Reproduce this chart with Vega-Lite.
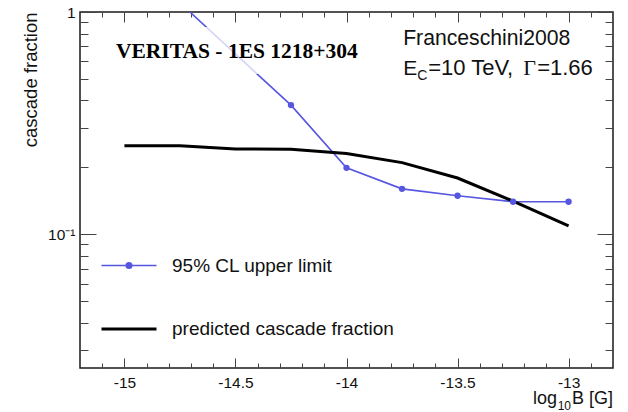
{
  "$schema": "https://vega.github.io/schema/vega-lite/v6.json",
  "width": 533,
  "height": 356,
  "autosize": {"type": "none"},
  "padding": {"left": 80, "top": 12, "right": 15, "bottom": 44},
  "background": "white",
  "config": {
    "view": {"stroke": "#1a1a1a", "strokeWidth": 1.5},
    "font": "Liberation Sans",
    "axis": {
      "domain": false,
      "grid": false,
      "tickColor": "#444",
      "tickWidth": 1,
      "labelFont": "Liberation Sans",
      "labelFontSize": 15.5,
      "labelColor": "#111",
      "labelOverlap": false,
      "labelFlush": false,
      "labelBound": false,
      "titleFont": "Liberation Sans",
      "titleFontWeight": "normal",
      "titleColor": "#111"
    }
  },
  "datasets": {
    "curves": [
      {"log10B": -14.75, "fraction": 1.1, "series": "95% CL upper limit"},
      {"log10B": -14.25, "fraction": 0.381, "series": "95% CL upper limit"},
      {"log10B": -14.0, "fraction": 0.199, "series": "95% CL upper limit"},
      {"log10B": -13.75, "fraction": 0.16, "series": "95% CL upper limit"},
      {"log10B": -13.5, "fraction": 0.149, "series": "95% CL upper limit"},
      {"log10B": -13.25, "fraction": 0.14, "series": "95% CL upper limit"},
      {"log10B": -13.0, "fraction": 0.14, "series": "95% CL upper limit"},
      {"log10B": -15.0, "fraction": 0.25, "series": "predicted cascade fraction"},
      {"log10B": -14.75, "fraction": 0.25, "series": "predicted cascade fraction"},
      {"log10B": -14.5, "fraction": 0.242, "series": "predicted cascade fraction"},
      {"log10B": -14.25, "fraction": 0.241, "series": "predicted cascade fraction"},
      {"log10B": -14.0, "fraction": 0.231, "series": "predicted cascade fraction"},
      {"log10B": -13.75, "fraction": 0.21, "series": "predicted cascade fraction"},
      {"log10B": -13.5, "fraction": 0.179, "series": "predicted cascade fraction"},
      {"log10B": -13.25, "fraction": 0.141, "series": "predicted cascade fraction"},
      {"log10B": -13.0, "fraction": 0.109, "series": "predicted cascade fraction"}
    ]
  },
  "layer": [
    {
      "data": {"name": "curves"},
      "mark": {"type": "line", "clip": true},
      "encoding": {
        "x": {
          "field": "log10B",
          "type": "quantitative",
          "scale": {"domain": [-15.2, -12.8], "nice": false, "zero": false},
          "axis": {
            "orient": "bottom",
            "title": null,
            "values": [-15.1, -15.0, -14.9, -14.8, -14.7, -14.6, -14.5, -14.4, -14.3, -14.2, -14.1, -14.0, -13.9, -13.8, -13.7, -13.6, -13.5, -13.4, -13.3, -13.2, -13.1, -13.0, -12.9],
            "labelExpr": "abs(datum.value * 2 - round(datum.value * 2)) < 0.001 ? toString(round(datum.value * 10) / 10) : ''",
            "tickSize": {"condition": {"test": "abs(datum.value * 2 - round(datum.value * 2)) < 0.001", "value": -10}, "value": -5},
            "labelPadding": 17
          }
        },
        "y": {
          "field": "fraction",
          "type": "quantitative",
          "scale": {"type": "log", "domain": [0.025, 1], "nice": false},
          "axis": {
            "orient": "left",
            "title": "cascade fraction",
            "titleFontSize": 18.5,
            "titleAnchor": "end",
            "titlePadding": 7,
            "values": [0.03, 0.04, 0.05, 0.06, 0.07, 0.08, 0.09, 0.1, 0.2, 0.3, 0.4, 0.5, 0.6, 0.7, 0.8, 0.9, 1],
            "labelExpr": "datum.value == 1 ? '1' : (abs(datum.value - 0.1) < 1e-6 ? '10⁻¹' : '')",
            "tickSize": {"condition": {"test": "datum.value == 1 || abs(datum.value - 0.1) < 1e-6", "value": -16}, "value": -8},
            "labelPadding": 21
          }
        },
        "color": {
          "field": "series",
          "type": "nominal",
          "scale": {"domain": ["95% CL upper limit", "predicted cascade fraction"], "range": ["#5656e0", "#000000"]},
          "legend": {
            "orient": "none",
            "legendX": 20,
            "legendY": 225,
            "title": null,
            "symbolType": "stroke",
            "symbolSize": 3025,
            "symbolStrokeWidth": 2,
            "labelFont": "Liberation Sans",
            "labelFontSize": 19,
            "labelColor": "#111",
            "labelLimit": 0,
            "labelOffset": 14,
            "rowPadding": 24,
            "encode": {
              "symbols": {
                "update": {
                  "shape": {"signal": "datum.value === '95% CL upper limit' ? 'M-1,0H1M0.1,0A0.1,0.1,0,1,1,-0.1,0A0.1,0.1,0,1,1,0.1,0' : 'stroke'"},
                  "fill": {"signal": "datum.value === '95% CL upper limit' ? '#5656e0' : 'transparent'"},
                  "strokeWidth": {"signal": "datum.value === '95% CL upper limit' ? 1.6 : 3"}
                }
              }
            }
          }
        },
        "strokeWidth": {
          "field": "series",
          "type": "nominal",
          "scale": {"domain": ["95% CL upper limit", "predicted cascade fraction"], "range": [1.6, 3]},
          "legend": null
        }
      }
    },
    {
      "data": {"name": "curves"},
      "transform": [{"filter": "datum.series === '95% CL upper limit'"}],
      "mark": {"type": "point", "shape": "circle", "filled": true, "size": 40, "opacity": 1, "color": "#5656e0", "clip": true},
      "encoding": {
        "x": {
          "field": "log10B",
          "type": "quantitative",
          "axis": {
            "orient": "top",
            "title": null,
            "labels": false,
            "values": [-15.1, -15.0, -14.9, -14.8, -14.7, -14.6, -14.5, -14.4, -14.3, -14.2, -14.1, -14.0, -13.9, -13.8, -13.7, -13.6, -13.5, -13.4, -13.3, -13.2, -13.1, -13.0, -12.9],
            "tickSize": {"condition": {"test": "abs(datum.value * 2 - round(datum.value * 2)) < 0.001", "value": -10}, "value": -5}
          }
        },
        "y": {
          "field": "fraction",
          "type": "quantitative",
          "axis": {
            "orient": "right",
            "title": null,
            "labels": false,
            "values": [0.03, 0.04, 0.05, 0.06, 0.07, 0.08, 0.09, 0.1, 0.2, 0.3, 0.4, 0.5, 0.6, 0.7, 0.8, 0.9, 1],
            "tickSize": {"condition": {"test": "datum.value == 1 || abs(datum.value - 0.1) < 1e-6", "value": -16}, "value": -8}
          }
        }
      }
    },
    {
      "data": {"values": [{"box": "VERITAS - 1ES 1218+304"}]},
      "mark": {"type": "rect", "fill": "white", "opacity": 0.75},
      "encoding": {
        "x": {"datum": -15.065, "axis": null},
        "x2": {"datum": -13.93},
        "y": {"datum": 0.856, "axis": null},
        "y2": {"datum": 0.526}
      }
    },
    {
      "data": {"values": [{"label": "VERITAS - 1ES 1218+304"}]},
      "mark": {"type": "text", "align": "left", "baseline": "alphabetic", "font": "Liberation Serif", "fontWeight": "bold", "fontSize": 21.5, "color": "#000"},
      "encoding": {
        "x": {"datum": -15.038, "axis": null},
        "y": {"datum": 0.621, "axis": null},
        "text": {"field": "label"}
      }
    },
    {
      "data": {"values": [{"label": "Franceschini2008"}]},
      "mark": {"type": "text", "align": "left", "baseline": "alphabetic", "font": "Liberation Sans", "fontSize": 21.2, "color": "#111"},
      "encoding": {
        "x": {"datum": -13.745, "axis": null},
        "y": {"datum": 0.71, "axis": null},
        "text": {"field": "label"}
      }
    },
    {
      "data": {"values": [{"label": "E"}]},
      "mark": {"type": "text", "align": "left", "baseline": "alphabetic", "font": "Liberation Sans", "fontSize": 21, "color": "#111"},
      "encoding": {
        "x": {"datum": -13.745, "axis": null},
        "y": {"datum": 0.52, "axis": null},
        "text": {"field": "label"}
      }
    },
    {
      "data": {"values": [{"label": "C"}]},
      "mark": {"type": "text", "align": "left", "baseline": "alphabetic", "font": "Liberation Sans", "fontSize": 14, "color": "#111", "dx": 14, "dy": 5},
      "encoding": {
        "x": {"datum": -13.745, "axis": null},
        "y": {"datum": 0.52, "axis": null},
        "text": {"field": "label"}
      }
    },
    {
      "data": {"values": [{"label": "=10 TeV,"}]},
      "mark": {"type": "text", "align": "left", "baseline": "alphabetic", "font": "Liberation Sans", "fontSize": 22, "color": "#111", "dx": 25},
      "encoding": {
        "x": {"datum": -13.745, "axis": null},
        "y": {"datum": 0.52, "axis": null},
        "text": {"field": "label"}
      }
    },
    {
      "data": {"values": [{"label": "Γ"}]},
      "mark": {"type": "text", "align": "left", "baseline": "alphabetic", "font": "Liberation Serif", "fontSize": 22, "color": "#111", "dx": 120},
      "encoding": {
        "x": {"datum": -13.745, "axis": null},
        "y": {"datum": 0.52, "axis": null},
        "text": {"field": "label"}
      }
    },
    {
      "data": {"values": [{"label": "=1.66"}]},
      "mark": {"type": "text", "align": "left", "baseline": "alphabetic", "font": "Liberation Sans", "fontSize": 22, "color": "#111", "dx": 134},
      "encoding": {
        "x": {"datum": -13.745, "axis": null},
        "y": {"datum": 0.52, "axis": null},
        "text": {"field": "label"}
      }
    },
    {
      "data": {"values": [{"label": "B [G]"}]},
      "mark": {"type": "text", "align": "right", "baseline": "alphabetic", "font": "Liberation Sans", "fontSize": 18, "color": "#111", "dy": 36},
      "encoding": {
        "x": {"datum": -12.8, "axis": null},
        "y": {"datum": 0.025, "axis": null},
        "text": {"field": "label"}
      }
    },
    {
      "data": {"values": [{"label": "10"}]},
      "mark": {"type": "text", "align": "right", "baseline": "alphabetic", "font": "Liberation Sans", "fontSize": 12, "color": "#111", "dx": -42, "dy": 42},
      "encoding": {
        "x": {"datum": -12.8, "axis": null},
        "y": {"datum": 0.025, "axis": null},
        "text": {"field": "label"}
      }
    },
    {
      "data": {"values": [{"label": "log"}]},
      "mark": {"type": "text", "align": "right", "baseline": "alphabetic", "font": "Liberation Sans", "fontSize": 18, "color": "#111", "dx": -56, "dy": 36},
      "encoding": {
        "x": {"datum": -12.8, "axis": null},
        "y": {"datum": 0.025, "axis": null},
        "text": {"field": "label"}
      }
    }
  ],
  "resolve": {"axis": {"x": "independent", "y": "independent"}}
}
